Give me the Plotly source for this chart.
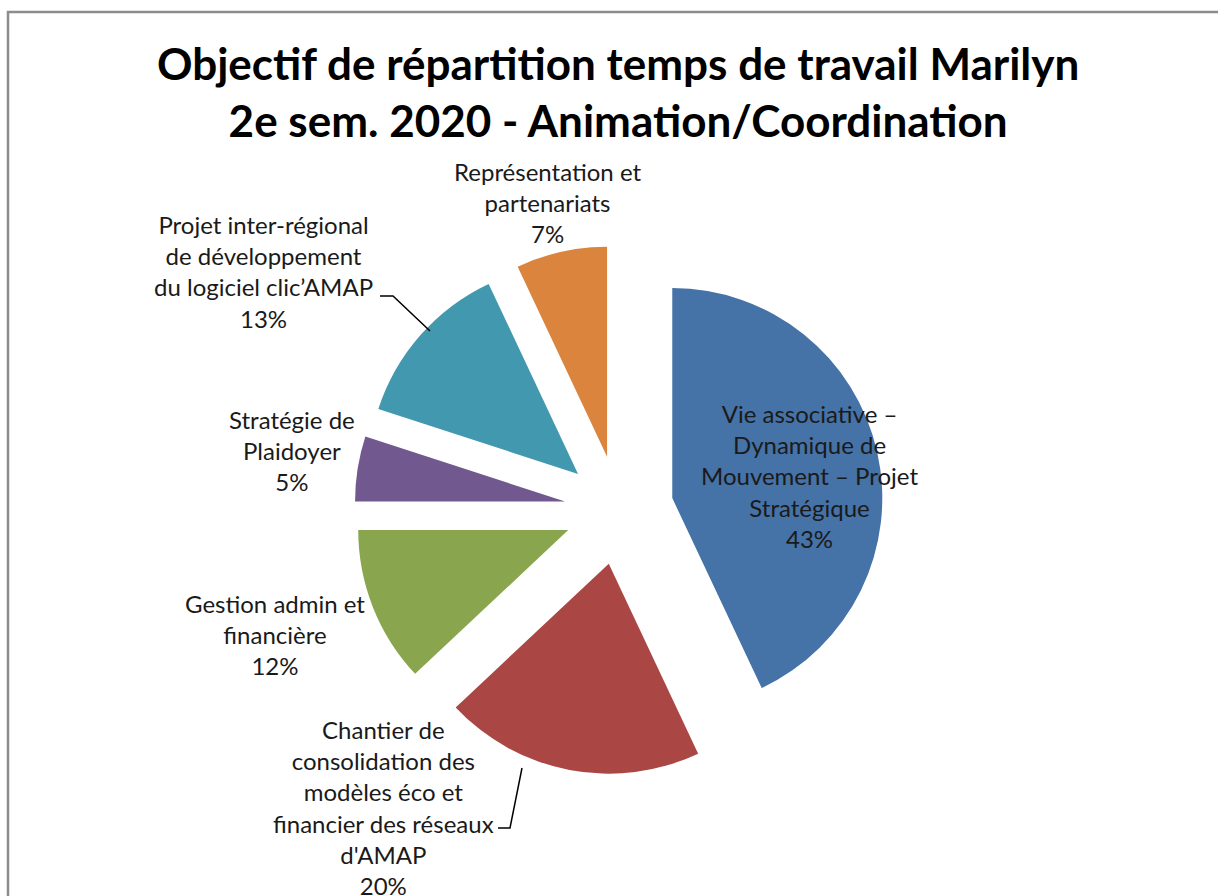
import plotly.graph_objects as go

W, H = 1218, 896

labels = [
    "Vie associative –<br>Dynamique de<br>Mouvement – Projet<br>Stratégique",
    "Chantier de<br>consolidation des<br>modèles éco et<br>financier des réseaux<br>d'AMAP",
    "Gestion admin et<br>financière",
    "Stratégie de<br>Plaidoyer",
    "Projet inter-régional<br>de développement<br>du logiciel clic’AMAP",
    "Représentation et<br>partenariats",
]
values = [43, 20, 12, 5, 13, 7]
colors = ["#4572A7", "#AA4643", "#89A54E", "#71588F", "#4198AF", "#DB843D"]

# label block centres (pixels) – layout only
label_pos = [(809, 476), (383, 807), (275, 634), (292, 450), (263, 271), (547, 202)]


def px(x, y):
    return x / W, 1 - y / H


total = sum(values)
cx, cy, half = 619, 510, 264.6
x0, y0 = px(cx - half, cy + half)
x1, y1 = px(cx + half, cy - half)

fig = go.Figure(
    go.Pie(
        labels=[l.replace("<br>", " ") for l in labels],
        values=values,
        sort=False,
        direction="clockwise",
        rotation=0,
        pull=[0.26] * len(values),
        marker=dict(colors=colors, line=dict(width=0)),
        textinfo="none",
        hoverinfo="skip",
        showlegend=False,
        domain=dict(x=[x0, x1], y=[y0, y1]),
    )
)

annotations = []
for lab, v, (lx, ly) in zip(labels, values, label_pos):
    ax, ay = px(lx, ly)
    annotations.append(
        dict(
            text=f"{lab}<br>{round(100 * v / total)}%",
            x=ax, y=ay, xref="paper", yref="paper",
            xanchor="center", yanchor="middle",
            showarrow=False, align="center",
            font=dict(family="Lato, Open Sans, sans-serif", size=24, color="#1a1a1a"),
        )
    )

# title
tx, ty = px(618, 91)
annotations.append(
    dict(
        text="Objectif de répartition temps de travail Marilyn<br>2e sem. 2020 - Animation/Coordination",
        x=tx, y=ty, xref="paper", yref="paper", xanchor="center", yanchor="middle",
        showarrow=False, align="center",
        font=dict(family="Lato, sans-serif", size=44, color="#000000", weight="bold"),
    )
)


def path(points):
    s = ""
    for i, (a, b) in enumerate(points):
        X, Y = px(a, b)
        s += ("M" if i == 0 else "L") + f"{X:.5f},{Y:.5f} "
    return s


shapes = [
    dict(type="path", xref="paper", yref="paper",
         path=path([(380, 296), (393, 296), (430, 331)]),
         line=dict(color="#000000", width=1.5)),
    dict(type="path", xref="paper", yref="paper",
         path=path([(498, 828), (510, 828), (522, 768)]),
         line=dict(color="#000000", width=1.5)),
]
bx0, by0 = px(8, 12)
shapes.append(dict(type="rect", xref="paper", yref="paper",
                   x0=bx0, y0=-0.05, x1=1.05, y1=by0,
                   line=dict(color="#8c8c8c", width=2.5), fillcolor="rgba(0,0,0,0)"))

fig.update_layout(
    width=W, height=H,
    margin=dict(l=0, r=0, t=0, b=0),
    paper_bgcolor="white", plot_bgcolor="white",
    annotations=annotations, shapes=shapes,
)

fig.write_html("out.html", config={"displayModeBar": False},
               post_script="document.body.style.margin='0';")
